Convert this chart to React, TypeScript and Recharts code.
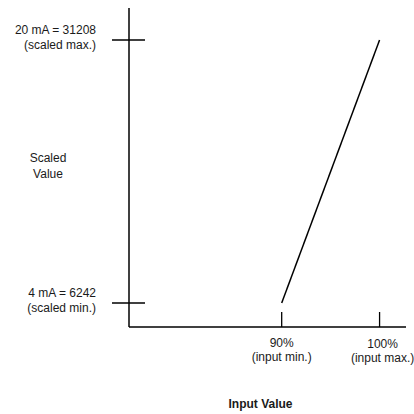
import React from "react";
import { LineChart, Line, XAxis, YAxis, Label } from "recharts";

// input percent vs scaled value
const inputPct = [90, 100];
const scaledVals = [6242, 31208];
const xTickTop = ["90%", "100%"];
const xTickBottom = ["(input min.)", "(input max.)"];
const yTickTop = ["4 mA = 6242", "20 mA = 31208"];
const yTickBottom = ["(scaled min.)", "(scaled max.)"];

const data = inputPct.map((x, i) => ({ x, y: scaledVals[i] }));

const FONT = '"Liberation Sans", Arial, sans-serif';
const INK = "#1a1a1a";

function XTick(props: any) {
  const { x, y, payload } = props;
  const i = inputPct.indexOf(payload.value);
  const dx = i === 1 ? 3 : 0;
  return (
    <g>
      <line x1={x} x2={x} y1={y - 15} y2={y} stroke="#000" strokeWidth={1.3} />
      <text x={x + dx} y={y + 20 + i} textAnchor="middle" fontSize={12} fill={INK} fontFamily={FONT}>
        {xTickTop[i]}
      </text>
      <text x={x + dx} y={y + 34 + i} textAnchor="middle" fontSize={12} fill={INK} fontFamily={FONT}>
        {xTickBottom[i]}
      </text>
    </g>
  );
}

function YTick(props: any) {
  const { x, y, payload } = props;
  const i = scaledVals.indexOf(payload.value);
  return (
    <g>
      <line x1={x - 17} x2={x + 16} y1={y} y2={y} stroke="#000" strokeWidth={1.3} />
      <text x={x - 33} y={y - 6} textAnchor="end" fontSize={12} fill={INK} fontFamily={FONT}>
        {yTickTop[i]}
      </text>
      <text x={x - 33} y={y + 9} textAnchor="end" fontSize={12} fill={INK} fontFamily={FONT}>
        {yTickBottom[i]}
      </text>
    </g>
  );
}

export default function App() {
  return (
    <div style={{ position: "absolute", left: 0, top: 0, width: 414, height: 414, background: "#fff" }}>
      <LineChart
        width={414}
        height={414}
        data={data}
        margin={{ top: 8, right: 8, left: 0, bottom: 7 }}
        style={{ overflow: "visible" }}
      >
        <XAxis
          dataKey="x"
          type="number"
          domain={[74.4, 102.7]}
          ticks={inputPct}
          tick={<XTick />}
          tickLine={false}
          tickSize={0}
          tickMargin={0}
          height={80}
          axisLine={{ stroke: "#000", strokeWidth: 1.5 }}
        >
          <Label
            content={(p: any) => {
              const vb = p.viewBox;
              return (
                <text
                  x={vb.x + vb.width / 2 - 7}
                  y={vb.y + 81}
                  textAnchor="middle"
                  fontSize={12}
                  fontWeight="bold"
                  fill={INK}
                  fontFamily={FONT}
                >
                  Input Value
                </text>
              );
            }}
          />
        </XAxis>
        <YAxis
          type="number"
          domain={[3964, 34246]}
          ticks={scaledVals}
          tick={<YTick />}
          tickLine={false}
          tickSize={0}
          tickMargin={0}
          width={129}
          axisLine={{ stroke: "#000", strokeWidth: 1.5 }}
        >
          <Label
            content={(p: any) => {
              const vb = p.viewBox;
              const cy = vb.y + vb.height / 2;
              return (
                <text textAnchor="middle" fontSize={12} fill={INK} fontFamily={FONT}>
                  <tspan x={48} y={cy - 6}>Scaled</tspan>
                  <tspan x={48} y={cy + 10}>Value</tspan>
                </text>
              );
            }}
          />
        </YAxis>
        <Line
          dataKey="y"
          stroke="#000"
          strokeWidth={1.5}
          dot={false}
          isAnimationActive={false}
        />
      </LineChart>
    </div>
  );
}
